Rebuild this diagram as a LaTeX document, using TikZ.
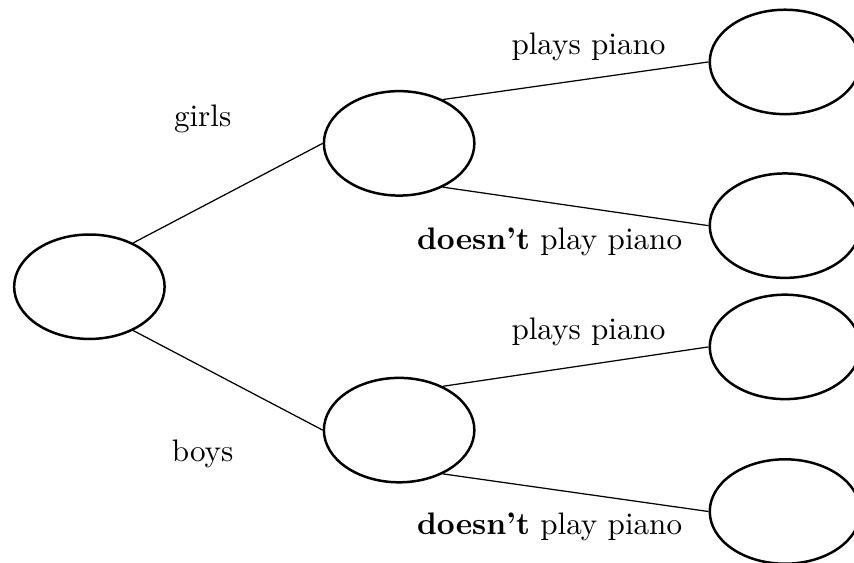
\documentclass[tikz,border=0pt]{standalone}
\usepackage{tikz}
\usetikzlibrary{shapes.geometric}

\begin{document}
\begin{tikzpicture}[
    oval/.style={ellipse, draw, thick, minimum width=1.7cm, minimum height=1.18cm, inner sep=0pt},
    branch/.style={anchor=base}
]

\useasboundingbox (-1.01,-3.12) rectangle (8.64,3.24);

% root of the tree:
\node[oval] (root) at (0,0) {};

% first split, girls and boys:
\node[oval] (girls) at (3.50,1.62) {};
\node[oval] (boys) at (3.50,-1.62) {};

% second split, piano or not:
\node[oval] (girlsyes) at (7.86,2.54) {};
\node[oval] (girlsno) at (7.86,0.69) {};
\node[oval] (boysyes) at (7.86,-0.68) {};
\node[oval] (boysno) at (7.86,-2.54) {};

\draw (root.45) -- (girls.west);
\draw (root.-45) -- (boys.west);
\draw (girls.45) -- (girlsyes.west);
\draw (girls.-45) -- (girlsno.west);
\draw (boys.45) -- (boysyes.west);
\draw (boys.-45) -- (boysno.west);

% labels on the branches:
\node[branch] (lgirls) at (1.28,1.81) {girls};
\node[branch] (lboys) at (1.28,-1.97) {boys};
\node[branch] (lgirlsyes) at (5.64,2.62) {plays piano};
\node[branch] (lgirlsno) at (5.20,0.42) {\textbf{doesn't} play piano};
\node[branch] (lboysyes) at (5.64,-0.60) {plays piano};
\node[branch] (lboysno) at (5.20,-2.80) {\textbf{doesn't} play piano};

\end{tikzpicture}
\end{document}
